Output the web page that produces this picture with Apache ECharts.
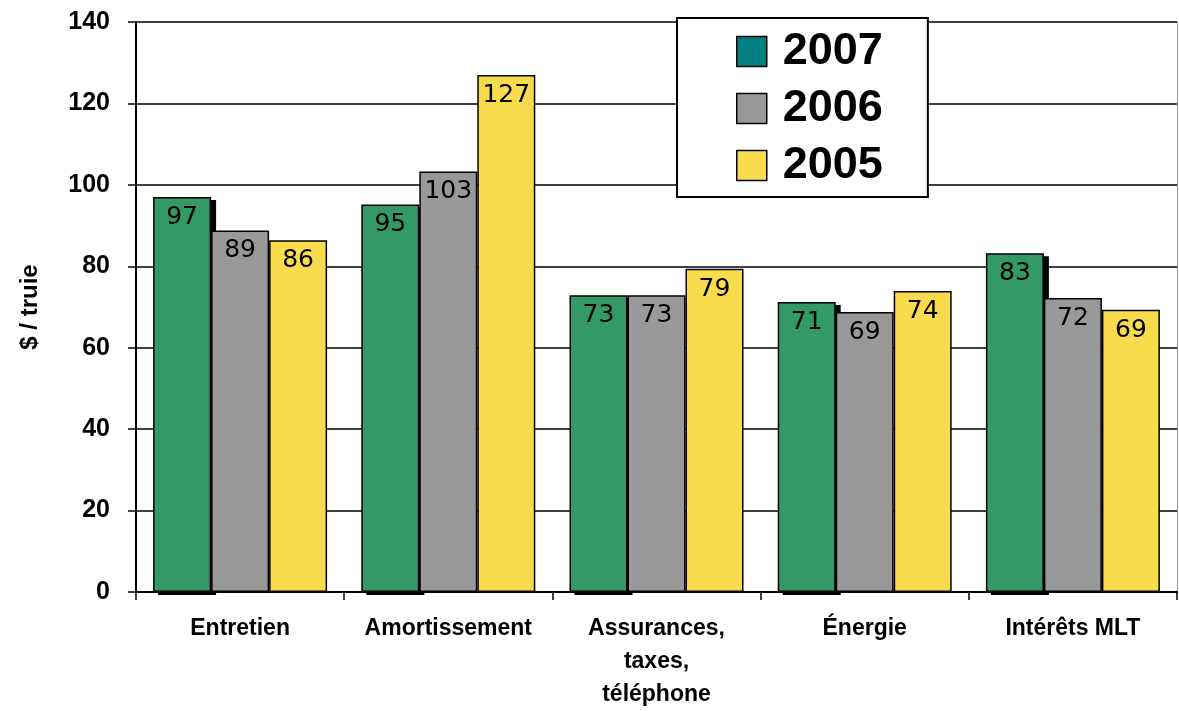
<!DOCTYPE html>
<html>
<head>
<meta charset="utf-8">
<script src="https://cdn.jsdelivr.net/npm/echarts@6/dist/echarts.min.js"></script>
<style>html,body{margin:0;padding:0;background:#fff;}#c{width:1179px;height:711px;}</style>
</head>
<body>
<div id="c"></div>
<script>
var categories = ['Entretien', 'Amortissement', 'Assurances,\ntaxes,\ntéléphone', 'Énergie', 'Intérêts MLT'];
var seriesNames = ['2007', '2006', '2005'];
var values2007 = [97.0, 95.2, 72.9, 71.2, 83.2];
var values2006 = [88.8, 103.3, 72.9, 68.8, 72.2];
var values2005 = [86.4, 127.0, 79.4, 73.9, 69.3];
var yTicks = [0, 20, 40, 60, 80, 100, 120, 140];

var BAR_W = 58;
var chart = echarts.init(document.getElementById('c'), null, {renderer: 'canvas'});
var barColors = ['#339966', '#999999', '#F9DC4E'];
var legendColors = ['#008080', '#999999', '#F9DC4E'];
var labelCfg = {
  show: true, position: 'insideTop', distance: 8,
  color: '#000', fontFamily: 'DejaVu Sans', fontSize: 25,
  formatter: function (p) { return Math.round(p.value); }
};
function mk(name, data, i) {
  return {
    name: name, type: 'bar', data: data, barWidth: BAR_W, barGap: '0%',
    itemStyle: {color: barColors[i], borderColor: '#000', borderWidth: 1.5},
    label: labelCfg, z: 3
  };
}
var shadowData = values2007.map(function (v, i) { return [i, v]; });
var shadowSeries = {
  type: 'custom', name: 'shadow', z: 2, silent: true,
  encode: {x: 0, y: 1},
  data: shadowData,
  renderItem: function (params, api) {
    var idx = api.value(0);
    var top = api.coord([idx, api.value(1)]);
    var base = api.coord([idx, 0]);
    var x = top[0] - 1.5 * BAR_W + 5;
    return {
      type: 'rect',
      shape: {x: x, y: top[1] + 3, width: BAR_W, height: base[1] - top[1]},
      style: {fill: '#000'}
    };
  }
};
chart.setOption({
  animation: false,
  backgroundColor: '#fff',
  grid: {left: 136, right: 2, top: 22, bottom: 117, containLabel: false},
  legend: {
    orient: 'vertical', left: 677, top: 18,
    padding: [11, 45, 9, 59],
    backgroundColor: '#fff', borderColor: '#000', borderWidth: 2,
    itemWidth: 30, itemHeight: 30, itemGap: 12,
    textStyle: {fontFamily: 'Liberation Sans', fontWeight: 'bold', fontSize: 45, lineHeight: 45, color: '#000', padding: [0, 0, 0, 11]},
    data: seriesNames.map(function (n, i) {
      return {name: n, icon: 'rect', itemStyle: {color: legendColors[i], borderColor: '#000', borderWidth: 1.5}};
    }),
    z: 10
  },
  xAxis: {
    type: 'category', data: categories,
    axisLine: {lineStyle: {color: '#000', width: 2}},
    axisTick: {show: true, length: 8, lineStyle: {color: '#000', width: 1.5}},
    axisLabel: {
      color: '#000', fontFamily: 'Liberation Sans', fontWeight: 'bold', fontSize: 23,
      margin: 20, lineHeight: 33, interval: 0
    }
  },
  yAxis: [{
    type: 'value', min: 0, max: 140, interval: 20,
    name: '$ / truie', nameLocation: 'middle', nameGap: 94, nameRotate: 90,
    nameTextStyle: {color: '#000', fontFamily: 'Liberation Sans', fontWeight: 'bold', fontSize: 24},
    axisLine: {show: true, lineStyle: {color: '#000', width: 2}},
    axisTick: {show: true, length: 8, lineStyle: {color: '#000', width: 1.5}},
    axisLabel: {
      color: '#000', fontFamily: 'Liberation Sans', fontWeight: 'bold', fontSize: 25, margin: 26,
      formatter: function (v) { return yTicks.indexOf(v) >= 0 ? String(v) : ''; }
    },
    splitLine: {show: true, lineStyle: {color: '#000', width: 1.5}}
  }, {
    type: 'value', min: 0, max: 140, interval: 20, position: 'right',
    axisLine: {show: true, lineStyle: {color: '#999', width: 1}},
    axisTick: {show: false}, axisLabel: {show: false}, splitLine: {show: false}
  }],
  series: [shadowSeries, mk(seriesNames[0], values2007, 0), mk(seriesNames[1], values2006, 1), mk(seriesNames[2], values2005, 2)]
});
</script>
</body>
</html>
